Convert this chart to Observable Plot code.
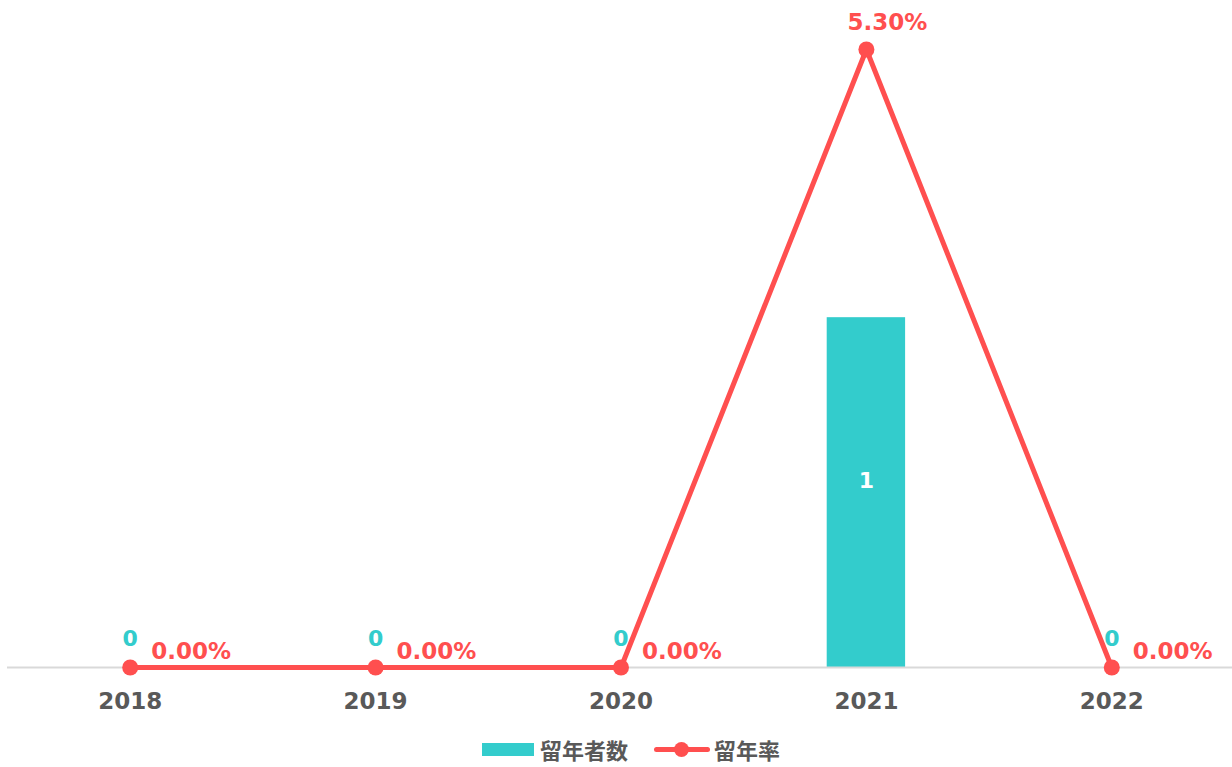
<!DOCTYPE html>
<html>
<head>
<meta charset="utf-8">
<script src="https://cdn.jsdelivr.net/npm/d3@7"></script>
<script src="https://cdn.jsdelivr.net/npm/@observablehq/plot@0.6"></script>
<style>
  body { margin: 0; background: #fff; overflow: hidden; }
  #chart svg { display: block; }
  #legend { display: flex; justify-content: center; align-items: center; padding-left: 30px; height: 26px; margin-top: 16px;
    font-family: "Noto Sans CJK JP", sans-serif; font-weight: bold; font-size: 22px; color: #595959; }
  #legend span { line-height: 1; }
  .sw { width: 52px; height: 13px; background: #33CCCC; margin-right: 6px; }
  .ln { position: relative; width: 56px; height: 5px; background: #FF4F4F; border-radius: 3px; margin-left: 26px; margin-right: 4px; }
  .ln::after { content: ""; position: absolute; left: 20px; top: -5px; width: 15px; height: 15px; border-radius: 50%; background: #FF4F4F; }
</style>
</head>
<body>
<div id="chart"></div>
<div id="legend"><div class="sw"></div><span>留年者数</span><div class="ln"></div><span>留年率</span></div>
<script>
const years = ["2018", "2019", "2020", "2021", "2022"];
const counts = [0, 0, 0, 1, 0];          // 留年者数
const rates = [0.00, 0.00, 0.00, 5.30, 0.00]; // 留年率 (%)

const teal = "#33CCCC";
const red = "#FF4F4F";
const grey = "#595959";
const barScale = 3.0; // count axis → rate axis units

const data = years.map((y, i) => ({year: y, count: counts[i], rate: rates[i]}));
const font = "'DejaVu Sans', sans-serif";

const chart = Plot.plot({
  width: 1232,
  height: 720,
  marginLeft: 7,
  marginRight: -2,
  marginTop: 49,
  marginBottom: 53,
  style: {fontFamily: font, background: "#fff", overflow: "hidden"},
  x: {type: "band", domain: years, padding: 0, round: false, label: null},
  y: {domain: [0, 5.3], axis: null},
  marks: [
    Plot.barY(data, {x: "year", y: d => d.count * barScale, fill: teal, insetLeft: 83.5, insetRight: 83.5}),
    Plot.ruleY([0], {stroke: "#d9d9d9", strokeWidth: 2}),
    Plot.axisX({tickSize: 0, tickPadding: 25, fontSize: 23, fontWeight: "bold", fill: grey, label: null}),
    Plot.line(data, {x: "year", y: "rate", stroke: red, strokeWidth: 5}),
    Plot.dot(data, {x: "year", y: "rate", r: 8, fill: red}),
    Plot.text(data.filter(d => d.count === 0), {x: "year", y: 0, text: d => String(d.count), fill: teal, fontSize: 22, fontWeight: "bold", dy: -29}),
    Plot.text(data.filter(d => d.count > 0), {x: "year", y: d => d.count * barScale / 2, text: d => String(d.count), fill: "#fff", fontSize: 22, fontWeight: "bold", dy: -12}),
    Plot.text(data.filter(d => d.rate === 0), {x: "year", y: "rate", text: d => d.rate.toFixed(2) + "%", fill: red, fontSize: 23, fontWeight: "bold", textAnchor: "start", dx: 21, dy: -15.5}),
    Plot.text(data.filter(d => d.rate > 0), {x: "year", y: "rate", text: d => d.rate.toFixed(2) + "%", fill: red, fontSize: 23, fontWeight: "bold", textAnchor: "start", dx: -19, dy: -26.5})
  ]
});
document.getElementById("chart").append(chart);
</script>
</body>
</html>
